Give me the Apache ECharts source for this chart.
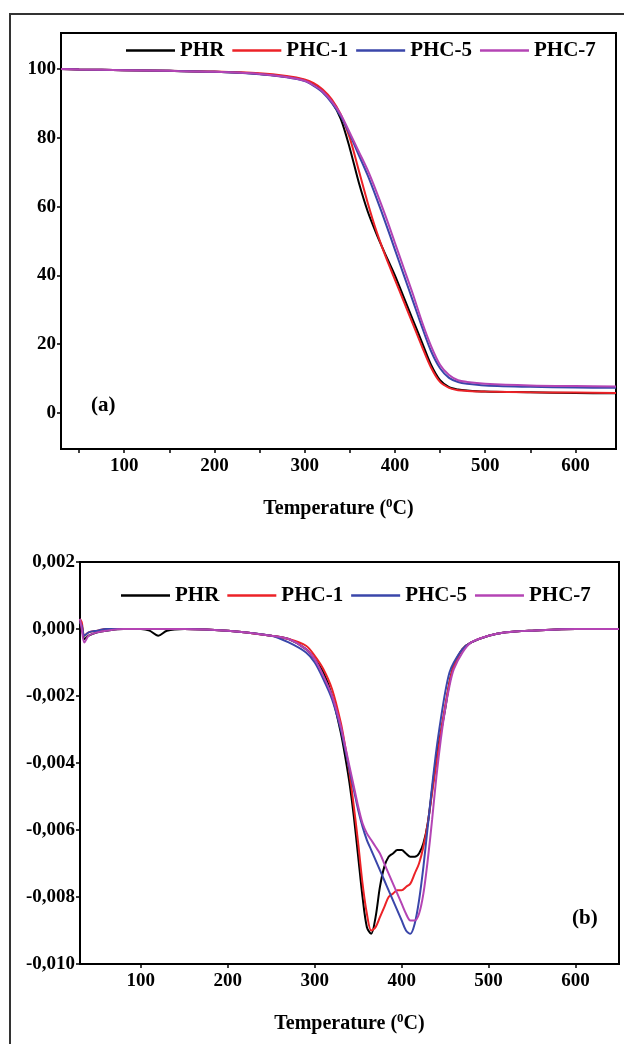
<!DOCTYPE html>
<html>
<head>
<meta charset="utf-8">
<script src="https://cdn.jsdelivr.net/npm/echarts@6/dist/echarts.min.js"></script>
<style>
  html, body { margin: 0; padding: 0; background: #fff; }
  #box { width: 624px; height: 1044px; }
</style>
</head>
<body>
<div id="box"></div>
<script>
// (a) TGA, weight % vs temperature
var tempA = [30, 50, 100, 150, 200, 250, 280, 300, 310, 320, 330, 340, 350, 360, 370, 380, 390, 400, 410, 420, 430, 440, 450, 460, 470, 480, 500, 550, 600, 645];
var phrA  = [100, 99.9, 99.7, 99.5, 99.2, 98.6, 97.8, 96.8, 95.5, 93.6, 90.5, 85.5, 77, 67, 58.5, 51.8, 45.8, 40, 33.5, 27, 20.5, 14, 9.5, 7.5, 6.8, 6.5, 6.2, 6, 5.8, 5.7];
var phc1A = [100, 99.9, 99.7, 99.5, 99.3, 98.8, 98, 97, 95.9, 94.1, 91.2, 86.8, 80, 70.5, 61, 52.5, 45.3, 38.8, 32.3, 25.8, 19.3, 13.2, 9, 7.3, 6.6, 6.4, 6.2, 6, 5.9, 5.8];
var phc5A = [100, 99.9, 99.7, 99.5, 99.2, 98.5, 97.6, 96.5, 95.1, 93.2, 90.2, 86.3, 81, 75, 69, 62.2, 55, 47.5, 40, 32.5, 25, 18, 13, 10.2, 9, 8.5, 8, 7.6, 7.4, 7.3];
var phc7A = [100, 99.9, 99.7, 99.5, 99.2, 98.6, 97.7, 96.6, 95.3, 93.5, 90.6, 86.8, 81.5, 76, 70.5, 64, 57, 49.5, 42, 34.5, 26.5, 19.5, 14, 11, 9.5, 9, 8.5, 8, 7.8, 7.7];

// (b) DTG
var tempB = [30, 32, 35, 40, 50, 60, 80, 100, 110, 120, 130, 150, 200, 250, 270, 290, 300, 310, 320, 330, 335, 340, 345, 350, 355, 360, 365, 370, 375, 380, 385, 390, 395, 400, 405, 410, 415, 420, 425, 430, 435, 440, 445, 450, 455, 460, 470, 480, 500, 520, 550, 600, 650];
var phrB  = [0.0002, 0.0001, -0.0003, -0.0002, -0.0001, -0.00005, 0, 0, -0.00005, -0.0002, -0.00005, 0, -0.00005, -0.0002, -0.0003, -0.0006, -0.0009, -0.0013, -0.002, -0.0031, -0.0038, -0.0046, -0.0056, -0.0068, -0.008, -0.0089, -0.0091, -0.0086, -0.0077, -0.0071, -0.0068, -0.0067, -0.0066, -0.0066, -0.0067, -0.0068, -0.0068, -0.0067, -0.0064, -0.0058, -0.0048, -0.0038, -0.0031, -0.0024, -0.0016, -0.0011, -0.0006, -0.0004, -0.0002, -0.0001, -0.00005, 0, 0];
var phc1B = [0.0003, 0.0002, -0.0002, -0.0001, -0.00005, 0, 0, 0, 0, 0, 0, 0, -0.00005, -0.0002, -0.0003, -0.0005, -0.0008, -0.0012, -0.0018, -0.0028, -0.0035, -0.0043, -0.0053, -0.0064, -0.0076, -0.0085, -0.009, -0.0089, -0.0086, -0.0083, -0.008, -0.0079, -0.0078, -0.0078, -0.0077, -0.0076, -0.0073, -0.007, -0.0065, -0.0058, -0.0049, -0.004, -0.0031, -0.0023, -0.0016, -0.0011, -0.0006, -0.0004, -0.0002, -0.0001, -0.00005, 0, 0];
var phc5B = [0.0002, 0.0001, -0.0002, -0.0001, -0.00005, 0, 0, 0, 0, 0, 0, 0, -0.00005, -0.0002, -0.0004, -0.0007, -0.001, -0.0015, -0.0021, -0.003, -0.0036, -0.0042, -0.0048, -0.0054, -0.0059, -0.0063, -0.0066, -0.0069, -0.0072, -0.0075, -0.0078, -0.0081, -0.0084, -0.0087, -0.009, -0.0091, -0.0088, -0.0081, -0.0071, -0.0059, -0.0047, -0.0036, -0.0027, -0.0019, -0.0013, -0.001, -0.0006, -0.0004, -0.0002, -0.0001, -0.00005, 0, 0];
var phc7B = [0.0003, 0, -0.0004, -0.0002, -0.0001, -0.00005, 0, 0, 0, 0, 0, 0, -0.00005, -0.0002, -0.0003, -0.0006, -0.0009, -0.0014, -0.002, -0.0029, -0.0035, -0.0041, -0.0047, -0.0053, -0.0058, -0.0061, -0.0063, -0.0065, -0.0067, -0.007, -0.0073, -0.0076, -0.0079, -0.0082, -0.0085, -0.0087, -0.0087, -0.0085, -0.0079, -0.0069, -0.0057, -0.0044, -0.0033, -0.0024, -0.0017, -0.0012, -0.0007, -0.0004, -0.0002, -0.0001, -0.00005, 0, 0];

var names = ['PHR', 'PHC-1', 'PHC-5', 'PHC-7'];
var colors = ['#000000', '#ec2227', '#3a46aa', '#b444b4'];
var xTicksA = [50, 100, 150, 200, 250, 300, 350, 400, 450, 500, 550, 600];
var xLabels = [100, 200, 300, 400, 500, 600];
var yLabelsA = [0, 20, 40, 60, 80, 100];
var yLabelsB = [-0.010, -0.008, -0.006, -0.004, -0.002, 0.000, 0.002];

var font = 'Liberation Serif';

function pairs(t, v) {
  return t.map(function (x, i) { return [x, v[i]]; });
}

var myChart = echarts.init(document.getElementById('box'));

var axisName = {
  rich: {
    t: { fontFamily: font, fontWeight: 'bold', fontSize: 20, color: '#000', verticalAlign: 'bottom' },
    s: { fontFamily: font, fontWeight: 'bold', fontSize: 13, color: '#000', verticalAlign: 'top', padding: [0, 0, 9, 0] }
  }
};

function xAxisOf(grid, max, ticks) {
  return {
    type: 'value', gridIndex: grid, min: 30, max: max,
    name: '{t|Temperature (}{s|0}{t|C)}',
    nameLocation: 'middle', nameGap: 48,
    nameTextStyle: axisName,
    axisLine: { onZero: false, lineStyle: { color: '#000', width: 2 } },
    axisTick: { customValues: ticks, length: 4, lineStyle: { color: '#000', width: 1.5 } },
    axisLabel: { customValues: xLabels, fontFamily: font, fontWeight: 'bold', fontSize: 19, color: '#000', margin: 8 },
    splitLine: { show: false }
  };
}

var series = [];
[phrA, phc1A, phc5A, phc7A].forEach(function (v, i) {
  series.push({
    name: names[i], type: 'line', xAxisIndex: 0, yAxisIndex: 0,
    data: pairs(tempA, v), symbol: 'none', smooth: 0.3,
    lineStyle: { width: 2, color: colors[i] }, itemStyle: { color: colors[i] }
  });
});
[phrB, phc1B, phc5B, phc7B].forEach(function (v, i) {
  series.push({
    name: names[i], type: 'line', xAxisIndex: 1, yAxisIndex: 1,
    data: pairs(tempB, v), symbol: 'none', smooth: 0.3,
    lineStyle: { width: 2, color: colors[i] }, itemStyle: { color: colors[i] }
  });
});

function legendOf(left, top) {
  return {
    left: left, top: top, data: names,
    icon: 'rect', itemWidth: 49, itemHeight: 2.5, itemGap: 8,
    textStyle: { fontFamily: font, fontWeight: 'bold', fontSize: 21, color: '#000', padding: [0, 0, 0, 0] },
    selectedMode: false
  };
}

var option = {
  animation: false,
  backgroundColor: '#fff',
  grid: [
    { left: 61, top: 33, width: 555, height: 416, show: true, borderColor: '#000', borderWidth: 2, backgroundColor: 'transparent' },
    { left: 80, top: 562, width: 539, height: 402, show: true, borderColor: '#000', borderWidth: 2, backgroundColor: 'transparent' }
  ],
  legend: [legendOf(121, 35), legendOf(116, 580)],
  xAxis: [xAxisOf(0, 645, xTicksA), xAxisOf(1, 650, xLabels)],
  yAxis: [
    {
      type: 'value', gridIndex: 0, min: -10.5, max: 110.5,
      axisLine: { show: true, onZero: false, lineStyle: { color: '#000', width: 2 } },
      axisTick: { show: true, customValues: yLabelsA, length: 4, lineStyle: { color: '#000', width: 1.5 } },
      axisLabel: { customValues: yLabelsA, fontFamily: font, fontWeight: 'bold', fontSize: 19, color: '#000', margin: 5 },
      splitLine: { show: false }
    },
    {
      type: 'value', gridIndex: 1, min: -0.010, max: 0.002,
      axisLine: { show: true, onZero: false, lineStyle: { color: '#000', width: 2 } },
      axisTick: { show: true, customValues: yLabelsB, length: 4, lineStyle: { color: '#000', width: 1.5 } },
      axisLabel: {
        customValues: yLabelsB, fontFamily: font, fontWeight: 'bold', fontSize: 19, color: '#000', margin: 5,
        formatter: function (v) { return v.toFixed(3).replace('.', ','); }
      },
      splitLine: { show: false }
    }
  ],
  graphic: [
    { type: 'rect', shape: { x: 10, y: 14, width: 700, height: 1100 }, style: { fill: 'none', stroke: '#333', lineWidth: 2 }, silent: true },
    { type: 'text', left: 91, top: 395, style: { text: '(a)', font: 'bold 21px "Liberation Serif"', fill: '#000' } },
    { type: 'text', left: 572, top: 908, style: { text: '(b)', font: 'bold 21px "Liberation Serif"', fill: '#000' } }
  ],
  series: series
};

myChart.setOption(option);
</script>
</body>
</html>
